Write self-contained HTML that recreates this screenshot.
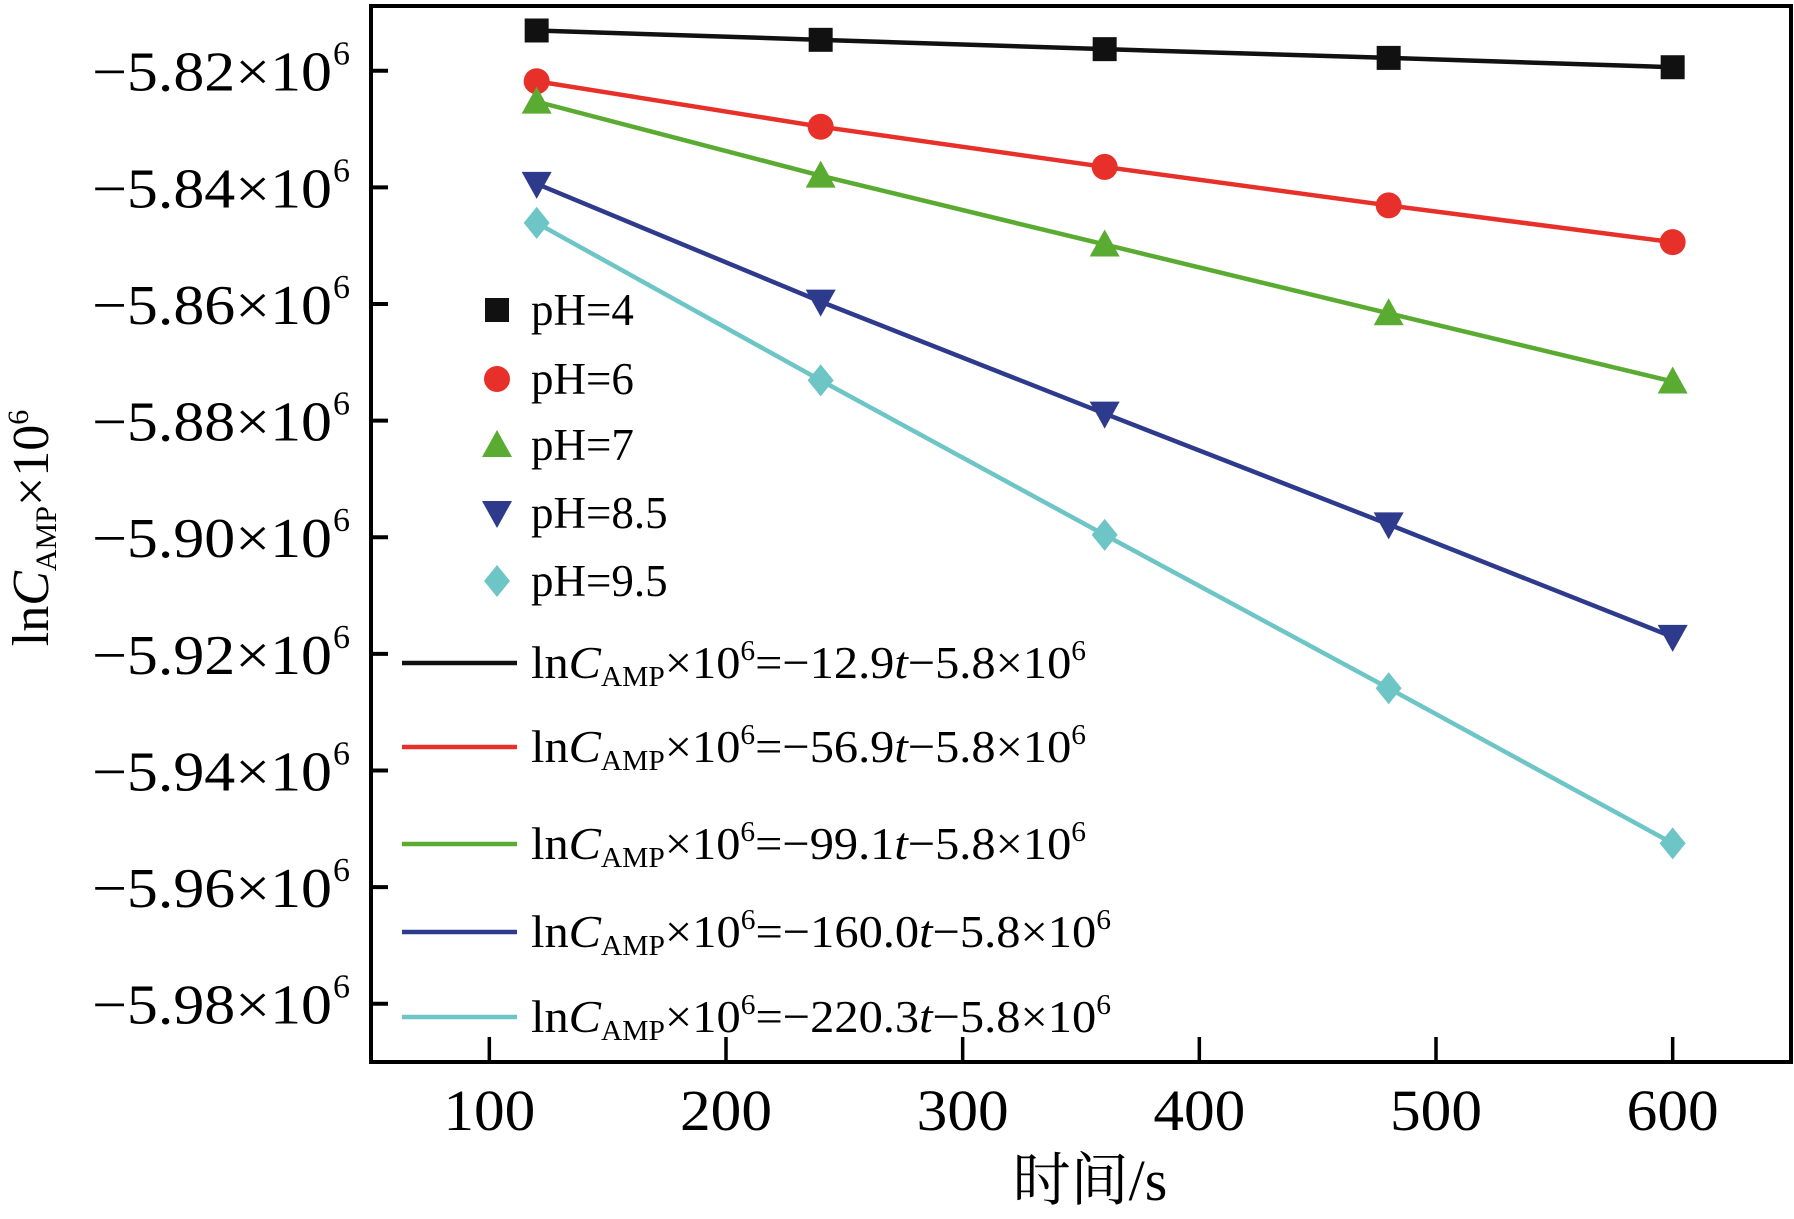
<!DOCTYPE html>
<html><head><meta charset="utf-8"><style>
html,body{margin:0;padding:0;background:#fff}
svg{display:block}
text{font-family:"Liberation Serif","Noto Serif CJK SC",serif}
</style></head><body>
<svg id="chart" width="1794" height="1219" viewBox="0 0 1794 1219" xmlns="http://www.w3.org/2000/svg"></svg>
<script>
const xValues=[120,240,360,480,600];
const seriesNames=["pH=4","pH=6","pH=7","pH=8.5","pH=9.5"];
const pH4=[-5.8131,-5.8147,-5.8163,-5.8178,-5.8194];
const pH6=[-5.8218,-5.8296,-5.8365,-5.8431,-5.8494];
const pH7=[-5.8253,-5.8380,-5.8498,-5.8616,-5.8733];
const pH85=[-5.8394,-5.8596,-5.8788,-5.8978,-5.9171];
const pH95=[-5.8461,-5.8731,-5.8996,-5.9259,-5.9525];
const slopes=["12.9","56.9","99.1","160.0","220.3"];
const xTicks=[100,200,300,400,500,600];
const yTicks=[-5.82,-5.84,-5.86,-5.88,-5.90,-5.92,-5.94,-5.96,-5.98];
const yTickLabels=["5.82","5.84","5.86","5.88","5.90","5.92","5.94","5.96","5.98"];

const L=371,R=1791,T=6,B=1062;
const xMin=50,xMax=650,yMin=-5.990,yMax=-5.8089;
const xs=v=>L+(v-xMin)/(xMax-xMin)*(R-L);
const ys=v=>B-(v-yMin)/(yMax-yMin)*(B-T);
const svg=document.getElementById('chart');
const NS='http://www.w3.org/2000/svg';
function mk(tag,attrs,parent){const e=document.createElementNS(NS,tag);for(const k in attrs)e.setAttribute(k,attrs[k]);(parent||svg).appendChild(e);return e;}

const colors=["#111111","#e8302a","#5aab32","#2e3a8c","#6ec5c6"];
const shapes=["square","circle","triangle","tridown","diamond"];
const data=[pH4,pH6,pH7,pH85,pH95];

function marker(shape,cx,cy,c,g){
  const s=13;let e;
  if(shape==="square")e=mk('rect',{x:cx-s+1,y:cy-s+1,width:2*s-2,height:2*s-2,fill:c},g);
  else if(shape==="circle")e=mk('circle',{cx:cx,cy:cy,r:s,fill:c},g);
  else if(shape==="triangle")e=mk('polygon',{points:`${cx},${cy-s-2} ${cx+s+2},${cy+s-1} ${cx-s-2},${cy+s-1}`,fill:c},g);
  else if(shape==="tridown")e=mk('polygon',{points:`${cx},${cy+s+2} ${cx+s+2},${cy-s+1} ${cx-s-2},${cy-s+1}`,fill:c},g);
  else e=mk('polygon',{points:`${cx},${cy-s-3} ${cx+s},${cy} ${cx},${cy+s+3} ${cx-s},${cy}`,fill:c},g);
  return e;
}

data.forEach((arr,i)=>{
  const g=mk('g',{});
  
  
  const pl=mk('polyline',{points:arr.map((v,j)=>xs(xValues[j])+','+ys(v)).join(' '),fill:'none',stroke:colors[i],'stroke-width':4.5},g);
  
  
  arr.forEach((v,j)=>{const m=marker(shapes[i],xs(xValues[j]),ys(v),colors[i],g);
    
    });
});

const frame=mk('rect',{x:L,y:T,width:R-L,height:B-T,fill:'none',stroke:'#000','stroke-width':4});



yTicks.forEach((v,i)=>{
  const y=ys(v);
  const t=mk('line',{x1:L,x2:L+17,y1:y,y2:y,stroke:'#000','stroke-width':4});
  
  
  const tx=mk('text',{x:92,y:y+20,'font-size':56,textLength:240,lengthAdjust:'spacingAndGlyphs'});
  
  
  tx.textContent='\u2212'+yTickLabels[i]+'\u00d710';
  const sup=mk('text',{x:333,y:y-6,'font-size':34});
  
  
  sup.textContent='6';
});
xTicks.forEach(v=>{
  const x=xs(v);
  const t=mk('line',{x1:x,x2:x,y1:B,y2:B-25,stroke:'#000','stroke-width':3.5});
  
  
  const tx=mk('text',{x:x,y:1130,'font-size':58,'text-anchor':'middle',textLength:92,lengthAdjust:'spacingAndGlyphs'});
  
  
  tx.textContent=v;
});
const xt=mk('text',{x:1090,y:1200,'font-size':58,'text-anchor':'middle'});


xt.textContent='时间/s';
const yt=mk('text',{transform:'translate(48,528) rotate(-90)','font-size':52,'text-anchor':'middle'});


yt.innerHTML='ln<tspan font-style="italic">C</tspan><tspan font-size="30" dy="8">AMP</tspan><tspan dy="-8">×10</tspan><tspan font-size="30" dy="-20">6</tspan>';

const legY=[310,379,445,513,581];
seriesNames.forEach((n,i)=>{
  const g=mk('g',{});
  
  
  marker(shapes[i],497,legY[i],colors[i],g);
  const t=mk('text',{x:531,y:legY[i]+15,'font-size':45},g);
  t.textContent=n;
});
const lineY=[663,747,844,932,1017];
const lineLen=[555,555,555,580,580];
slopes.forEach((s,i)=>{
  const g=mk('g',{});
  
  
  mk('line',{x1:402,x2:517,y1:lineY[i],y2:lineY[i],stroke:colors[i],'stroke-width':4.5},g);
  const t=mk('text',{x:531,y:lineY[i]+15,'font-size':46,textLength:lineLen[i],lengthAdjust:'spacingAndGlyphs'},g);
  t.innerHTML='ln<tspan font-style="italic">C</tspan><tspan font-size="28" dy="8">AMP</tspan><tspan dy="-8">×10</tspan><tspan font-size="28" dy="-18">6</tspan><tspan dy="18">=−'+s+'</tspan><tspan font-style="italic">t</tspan>−5.8×10<tspan font-size="28" dy="-18">6</tspan>';
});
</script>
</body></html>
